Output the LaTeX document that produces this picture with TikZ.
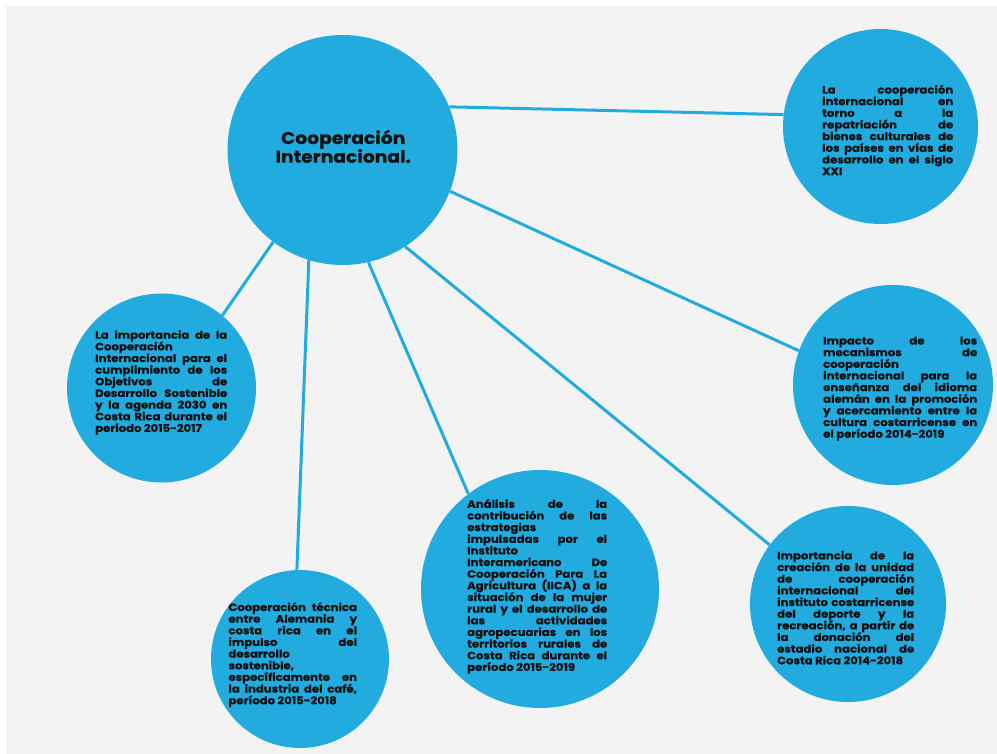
\documentclass[tikz,border=0pt]{standalone}
\usepackage{fontspec}
\setmainfont{Poppins}[FakeStretch=1.1, BoldFeatures={FakeBold=0.6}]
\definecolor{bg}{HTML}{F3F3F3}
\definecolor{blu}{HTML}{22ABDF}
\definecolor{ink}{HTML}{111111}
\newcommand\J[1]{\hbox to \hsize{#1}}
\newcommand\E[1]{\hbox to \hsize{#1\hfil}}
\newcommand\C[1]{\hbox to \hsize{\hfil#1\hfil}}
\newcommand\blk[2]{\vtop{\hsize=#1\baselineskip=11.65pt\lineskiplimit=-20pt\lineskip=0pt\relax #2}}
\tikzset{
  circ/.style={circle, fill=blu, draw=none, inner sep=0pt},
  txt/.style={anchor=base west, inner sep=0pt, text=ink, font=\bfseries\fontsize{10.6pt}{11.65pt}\selectfont},
  link/.style={draw=blu, line width=3pt}
}
\begin{document}
\begin{tikzpicture}[x=1pt,y=-1pt]
\useasboundingbox (0,0) rectangle (997,754);
\fill[white] (0,0) rectangle (997,754);
\fill[bg] (6,6) rectangle (997,754);

\node[circ, minimum size=230pt] (c) at (342.5,150) {};
\node[circ, minimum size=195pt] (tr) at (880.5,126.5) {};
\node[circ, minimum size=200pt] (rm) at (893,385) {};
\node[circ, minimum size=196pt] (br) at (848,604) {};
\node[circ, minimum size=238pt] (bm) at (540,589) {};
\node[circ, minimum size=178pt] (bl) at (300,659) {};
\node[circ, minimum size=189pt] (l) at (161.5,388) {};

\draw[link] (c.22.9) -- (tr.173.7);
\draw[link] (c.-21.8) -- (rm.160.5);
\draw[link] (c.-57.6) -- (br.143.1);
\draw[link] (c.-77.7) -- (bm.127.1);
\draw[link] (c.-107.9) -- (bl.92.4);
\draw[link] (c.-127.8) -- (l.50.4);

\node[anchor=base west, inner sep=0pt, text=ink, font=\bfseries\fontsize{17pt}{19pt}\selectfont] (ct) at (263,144)
 {\vtop{\hsize=160pt\baselineskip=18.7pt\lineskiplimit=-20pt\lineskip=0pt\relax
  \C{Cooperación}\C{Internacional.}}};

\node[txt] (ttr) at (822,93.5) {\blk{131pt}{%
\J{La cooperación}
\J{internacional en}
\J{torno a la}
\J{repatriación de}
\J{bienes culturales de}
\J{los países en vías de}
\J{desarrollo en el siglo}
\E{XXI}}};

\node[txt] (tl) at (95,338.7) {\blk{132pt}{%
\J{La importancia de la}
\E{Cooperación}
\J{Internacional para el}
\J{cumplimiento de los}
\J{Objetivos de}
\J{Desarrollo Sostenible}
\J{y la agenda 2030 en}
\J{Costa Rica durante el}
\E{periodo 2015-2017}}};

\node[txt] (trm) at (823,344.5) {\blk{154pt}{%
\J{Impacto de los}
\J{mecanismos de}
\E{cooperación}
\J{internacional para la}
\J{enseñanza del idioma}
\J{alemán en la promoción}
\J{y acercamiento entre la}
\J{cultura costarricense en}
\E{el período 2014-2019}}};

\node[txt] (tbr) at (777,559.4) {\blk{137pt}{%
\J{Importancia de la}
\J{creación de la unidad}
\J{de cooperación}
\J{internacional del}
\J{instituto costarricense}
\J{del deporte y la}
\J{recreación, a partir de}
\J{la donación del}
\J{estadio nacional de}
\E{Costa Rica 2014-2018}}};

\node[txt] (tbm) at (467,507.8) {\blk{140pt}{%
\J{Análisis de la}
\J{contribución de las}
\E{estrategias}
\J{impulsadas por el}
\E{Instituto}
\J{Interamericano De}
\J{Cooperación Para La}
\J{Agricultura (IICA) a la}
\J{situación de la mujer}
\J{rural y el desarrollo de}
\J{las actividades}
\J{agropecuarias en los}
\J{territorios rurales de}
\J{Costa Rica durante el}
\E{período 2015-2019}}};

\node[txt] (tbl) at (228.3,611) {\blk{128.5pt}{%
\J{Cooperación técnica}
\J{entre Alemania y}
\J{costa rica en el}
\J{impulso del}
\E{desarrollo}
\E{sostenible,}
\J{específicamente en}
\J{la industria del café,}
\E{período 2015-2018}}};
\end{tikzpicture}
\end{document}
